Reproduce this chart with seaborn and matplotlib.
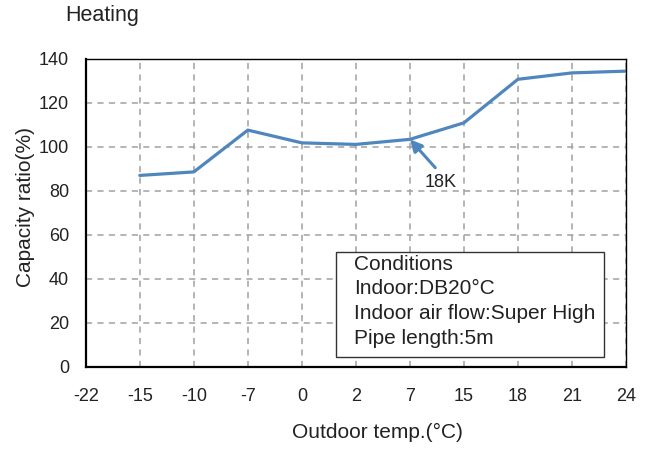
import pandas as pd
import matplotlib
matplotlib.use("Agg")
import matplotlib.pyplot as plt
import matplotlib.patches as patches
import seaborn as sns

# x axis categories (equally spaced, not a numeric scale)
TEMP_LABELS = ["-22", "-15", "-10", "-7", "0", "2", "7", "15", "18", "21", "24"]

# measured points
TEMPS = ["-15", "-10", "-7", "0", "2", "7", "15", "18", "21", "24"]
RATIO = [87, 88.6, 107.6, 101.8, 101.1, 103.4, 110.9, 130.7, 133.6, 134.4]

Y_TICKS = [0, 20, 40, 60, 80, 100, 120, 140]

CONDITIONS = ["Conditions", "Indoor:DB20°C", "Indoor air flow:Super High", "Pipe length:5m"]

LINE_COLOR = "#4f86bd"


def main():
    sns.set_style("white")
    plt.rcParams['font.family'] = ['Liberation Sans', 'DejaVu Sans']

    df = pd.DataFrame({
        'pos': [TEMP_LABELS.index(t) for t in TEMPS],
        'ratio': RATIO,
    })

    fig = plt.figure(figsize=(6.5, 4.49), dpi=100)
    ax = fig.add_axes([0.132, 0.183, 0.831, 0.686])

    sns.lineplot(x='pos', y='ratio', data=df, color=LINE_COLOR, linewidth=2.3, ax=ax)

    ax.set_xlim(0, len(TEMP_LABELS) - 1)
    ax.set_ylim(0, 140)
    ax.set_xticks(range(len(TEMP_LABELS)))
    ax.set_xticklabels(TEMP_LABELS)
    ax.set_yticks(Y_TICKS)

    ax.grid(True, color="#a0a0a0", linestyle=(0, (4, 3.5)), linewidth=1.1)
    ax.tick_params(axis='x', length=0, pad=15, labelsize=13, colors='#222222')
    ax.tick_params(axis='y', direction='in', length=4, color='#888888', pad=12,
                   labelsize=13, labelcolor='#222222')

    for s in ax.spines.values():
        s.set_color('black')
        s.set_linewidth(1.0)
    ax.spines['left'].set_linewidth(1.6)
    ax.spines['bottom'].set_linewidth(1.6)

    ax.set_xlabel("Outdoor temp.(°C)", fontsize=15, color='#222222')
    ax.xaxis.set_label_coords(0.54, -0.182)
    ax.set_ylabel("Capacity ratio(%)", fontsize=15, color='#222222')
    ax.yaxis.set_label_coords(-0.094, 0.519)

    fig.text(0.10, 0.965, "Heating", fontsize=15.5, color='#222222', va='center')

    # 18K arrow annotation at the 7 degree point
    x7 = TEMP_LABELS.index("7")
    ax.annotate("", xy=(x7, RATIO[TEMPS.index("7")]), xytext=(x7 + 0.47, 90.5),
                arrowprops=dict(arrowstyle='-|>,head_length=0.7,head_width=0.35',
                                color=LINE_COLOR, lw=2.2, shrinkA=0, shrinkB=0))
    ax.text(x7 + 0.56, 84, "18K", fontsize=13, color='#222222', ha='center', va='center')

    # conditions box
    ax.add_patch(patches.Rectangle((0.463, 0.032), 0.496, 0.341, transform=ax.transAxes,
                                   facecolor='white', edgecolor='#333333', linewidth=1.0,
                                   zorder=3))
    ax.text(0.496, 0.364, "\n".join(CONDITIONS), transform=ax.transAxes,
            fontsize=15, color='#222222', va='top', ha='left', linespacing=1.38,
            zorder=4)

    fig.savefig("out.png", dpi=100)


if __name__ == "__main__":
    main()
